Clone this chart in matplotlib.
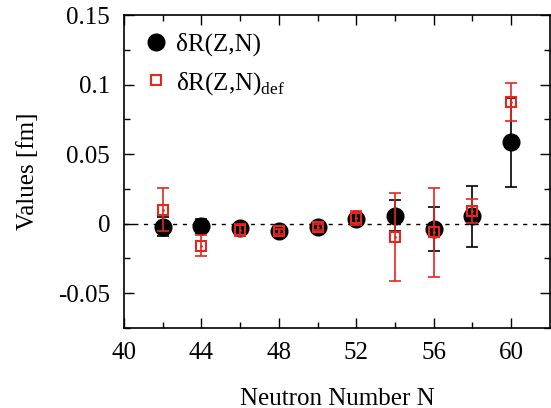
import numpy as np
import matplotlib
matplotlib.use("Agg")
import matplotlib.pyplot as plt

plt.rcParams['font.family'] = ['Liberation Serif', 'DejaVu Serif']
plt.rcParams['mathtext.fontset'] = 'custom'
plt.rcParams['mathtext.rm'] = 'Liberation Serif'

# neutron numbers
N = [42, 44, 46, 48, 50, 52, 54, 56, 58, 60]

# dR(Z,N)
dR = [-0.002, -0.0015, -0.003, -0.0055, -0.0024, 0.0033, 0.0057, -0.0038, 0.0052, 0.0586]
dR_err = [0.007, 0.005, 0.003, 0.002, 0.002, 0.003, 0.011, 0.016, 0.022, 0.032]

# dR(Z,N)_def
dR_def = [0.010, -0.0157, -0.0045, -0.0055, -0.0024, 0.0038, -0.0098, -0.0062, 0.0093, 0.0874]
dR_def_err = [0.0155, 0.0075, 0.004, 0.002, 0.002, 0.005, 0.0316, 0.032, 0.0087, 0.0137]

red = '#e8261e'

fig = plt.figure(figsize=(5.51, 4.08), dpi=100)
ax = fig.add_axes([0.225, 0.196, 0.773, 0.767])

ax.axhline(0, color='black', lw=1, ls=(0, (3, 4)), zorder=1)

ax.errorbar(N, dR, yerr=dR_err, fmt='none', ecolor='black', elinewidth=1.2,
            capsize=4, capthick=1.2, zorder=2)
ax.plot(N, dR, 'o', color='black', ms=12, zorder=3, label=r'δR(Z,N)')

ax.errorbar(N, dR_def, yerr=dR_def_err, fmt='none', ecolor=red, elinewidth=1.2,
            capsize=4, capthick=1.2, zorder=4)
ax.plot(N, dR_def, 's', mfc='none', mec=red, mew=1.5, ms=7, zorder=5,
        label=r'δR(Z,N)$_\mathrm{def}$')
ax.plot(N, dR_def, '.', color=red, ms=2, zorder=6)

ax.set_xlim(40, 62)
ax.set_ylim(-0.075, 0.15)
ax.set_xticks([40, 44, 48, 52, 56, 60])
ax.set_xticks(np.arange(42, 62, 2), minor=True)
ax.set_yticks([-0.05, 0, 0.05, 0.1, 0.15])
ax.set_yticklabels(['-0.05', '0', '0.05', '0.1', '0.15'])
ax.set_yticks(np.arange(-0.075, 0.15, 0.025), minor=True)

ax.tick_params(which='both', direction='in', top=True, right=True, labelsize=18, width=1)
ax.tick_params(which='major', length=7)
ax.tick_params(which='minor', length=4)
ax.tick_params(axis='x', which='major', pad=10)
ax.tick_params(axis='y', which='major', pad=10)
for s in ax.spines.values():
    s.set_linewidth(1.2)

ax.set_xlabel('Neutron Number N', fontsize=18, labelpad=17)
ax.set_ylabel('Values [fm]', fontsize=18, labelpad=14)

ax.legend(loc='upper left', frameon=False, fontsize=18, handletextpad=0.2,
          borderaxespad=0.3, labelspacing=0.55, handlelength=1.2, markerscale=1.0)

fig.savefig('out.png', dpi=100)
